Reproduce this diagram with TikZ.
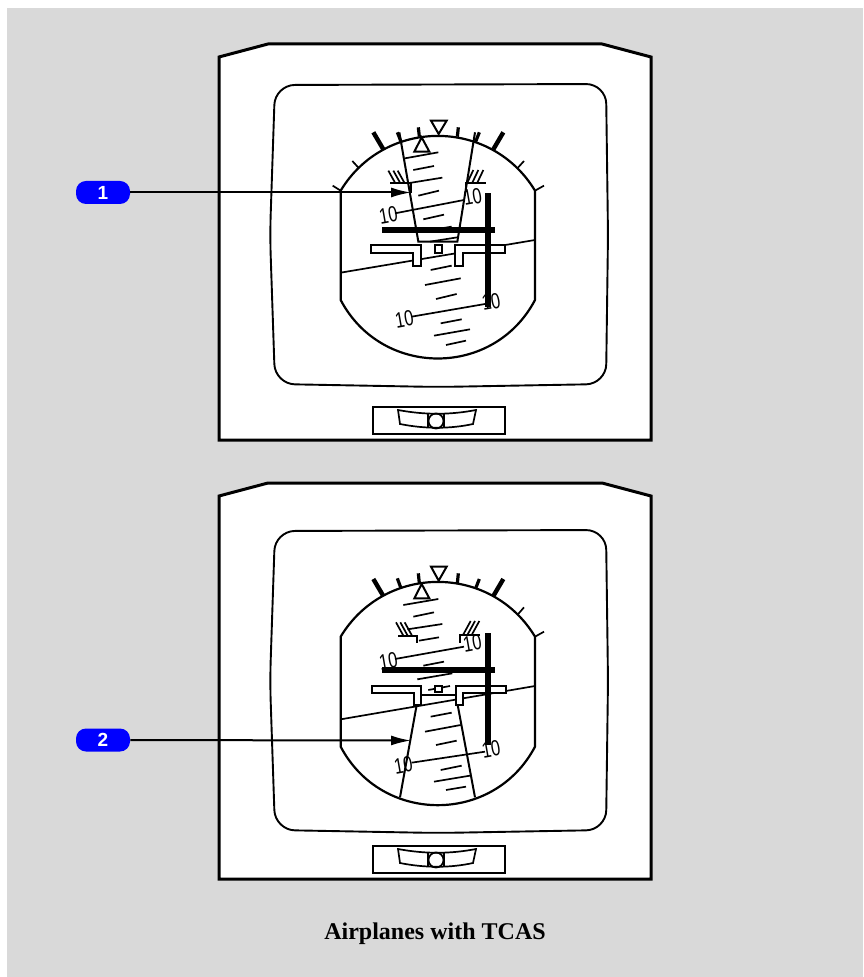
\documentclass[tikz,border=0pt]{standalone}
\usepackage{fontspec}
\setmainfont{Liberation Serif}
\setsansfont{Liberation Sans}
\usetikzlibrary{arrows.meta}

\tikzset{
  frameline/.style={black, line width=1.5pt, fill=white, line join=miter},
  screenline/.style={black, line width=0.95pt, fill=white, rounded corners=10pt},
  fineline/.style={black, line width=0.85pt},
  heavytick/.style={black, line width=2.2pt},
  mediumtick/.style={black, line width=1.6pt},
  wingshape/.style={black, line width=1.1pt, fill=white},
  fatbar/.style={black, line width=3pt},
  badge/.style={fill={rgb,255:red,0;green,0;blue,255}, text=white, rounded corners=5pt, minimum width=27pt,
    minimum height=11.5pt, inner sep=0pt, font=\sffamily\bfseries\fontsize{9.5}{10}\selectfont},
  callout/.style={black, line width=1pt, -{Latex[length=10pt,width=5pt]}},
  tenmark/.style={inner sep=0pt, rotate=10, xscale=0.75, font=\sffamily\fontsize{11}{12}\selectfont}
}

\begin{document}
\begin{tikzpicture}[x=0.5pt, y=-0.5pt]
  \useasboundingbox (0,0) rectangle (863,977);

  % Background
  \fill[gray!30] (7,8) rectangle (863,977);

  % Case, screen and slip indicator (both panels)
  \foreach \off/\scr in {0/0,439/446} {
    \draw[frameline] (219,57+\off) -- (268,44+\off) -- (602,44+\off) -- (651,57+\off)
      -- (651,440+\off) -- (219,440+\off) -- cycle;
    \draw[screenline] (275,85+\scr) -- (606,84+\scr) -- (608,235+\scr) -- (606,384+\scr)
      -- (438,387+\scr) -- (275,384+\scr) -- (270,235+\scr) -- cycle;
    \draw[fineline, line width=1pt] (373,407+\off) rectangle (505,434+\off);
    \draw[fineline] (398,410+\off) .. controls (425,415+\off) and (450,415+\off) .. (476,410+\off)
      -- (473,424+\off) .. controls (450,429+\off) and (425,429+\off) .. (400,424+\off) -- cycle;
    \draw[fineline] (428,414+\off) -- (428,428+\off);
    \draw[fineline] (444,414+\off) -- (444,428+\off);
    \draw[fineline] (436,421+\off) circle (7.5);
  }

  % Upper instrument (1)
  \begin{scope}[shift={(320,100)}, scale=1/3]
    % Sphere
    \draw[fineline, line width=1.1pt] (62,272) .. controls (194,53) and (513,53) .. (645,272)
      -- (645,600) .. controls (522,834) and (185,834) .. (62,600) -- cycle;
    % Roll scale
    \foreach \xa/\ya/\xb/\yb in {160/97/190/148,550/97/520/148}
      \draw[heavytick] (\xa,\ya) -- (\xb,\yb);
    \foreach \xa/\ya/\xb/\yb in {232/97/243/125,295/82/298/110,415/82/412/110,478/97/467/125}
      \draw[mediumtick] (\xa,\ya) -- (\xb,\yb);
    \foreach \xa/\ya/\xb/\yb in {97/183/117/205,612/183/592/205,38/257/62/272,672/257/645/272}
      \draw[fineline] (\xa,\ya) -- (\xb,\yb);
    \draw[fineline, line width=1pt] (333,62) -- (380,62) -- (356,102) -- cycle;
    \draw[fineline, line width=1pt] (283,155) -- (328,155) -- (305,112) -- cycle;
    % Pitch lines
    \foreach \xa/\ya/\xb/\yb in {255/175/355/157,280/210/342/198,262/250/367/233,295/287/357/272,
      225/340/432/300,310/358/372/344,290/397/395/380,330/425/412/412,332/510/395/497,
      315/555/422/535,348/597/410/582,275/650/495/612,362/670/425/658,342/707/450/688,
      378/735/438/722}
      \draw[fineline] (\xa,\ya) -- (\xb,\yb);
    \node[tenmark] (tenUL) at (205,345) {10};
    \node[tenmark] (tenUR) at (458,290) {10};
    \node[tenmark] (tenLL) at (253,657) {10};
    \node[tenmark] (tenLR) at (513,605) {10};
    % Horizon
    \draw[fineline] (62,518) -- (645,420);
    % Runway outline
    \draw[fineline, line width=1pt] (238,97) -- (295,425) -- (412,425) -- (465,97);
    % Limit marks
    \draw[fineline, line width=1.1pt] (210,248) -- (272,248) -- (272,280);
    \draw[fineline, line width=1.1pt] (497,248) -- (437,248) -- (437,275);
    \foreach \x in {205,220,233}
      \draw[fineline] (\x,212) -- (\x+20,248);
    \foreach \x in {490,475,460}
      \draw[fineline] (\x,210) -- (\x-18,248);
    % Airplane symbol
    \draw[wingshape] (153,436) -- (303,436) -- (303,497) -- (280,497) -- (280,460) -- (153,460) -- cycle;
    \draw[wingshape] (405,436) -- (555,436) -- (555,460) -- (430,460) -- (430,497) -- (405,497) -- cycle;
    \draw[wingshape] (344,436) rectangle (367,458);
    % Command bars
    \draw[fatbar] (187,391) -- (525,391);
    \draw[fatbar] (503,280) -- (503,620);
  \end{scope}

  % Lower instrument (2)
  \begin{scope}[shift={(320,550)}, scale=1/3]
    % Sphere
    \draw[fineline, line width=1.1pt] (62,260) .. controls (194,41) and (513,41) .. (645,260)
      -- (645,590) .. controls (522,824) and (185,824) .. (62,590) -- cycle;
    % Roll scale
    \foreach \xa/\ya/\xb/\yb in {160/87/190/138,550/87/520/138}
      \draw[heavytick] (\xa,\ya) -- (\xb,\yb);
    \foreach \xa/\ya/\xb/\yb in {232/85/243/115,295/70/298/100,415/70/412/100,478/87/467/115}
      \draw[mediumtick] (\xa,\ya) -- (\xb,\yb);
    \foreach \xa/\ya/\xb/\yb in {612/172/592/195,672/245/645/260}
      \draw[fineline] (\xa,\ya) -- (\xb,\yb);
    \draw[fineline, line width=1pt] (333,50) -- (380,50) -- (356,92) -- cycle;
    \draw[fineline, line width=1pt] (283,145) -- (328,145) -- (305,102) -- cycle;
    % Pitch lines
    \foreach \xa/\ya/\xb/\yb in {250/165/355/147,280/200/342/187,262/238/367/222,297/272/357/262,
      225/327/432/290,310/347/372/335,292/388/397/370,325/420/390/408,332/500/395/488,
      315/545/422/525,348/585/410/572,275/638/495/605,362/660/425/647,342/695/450/677,
      378/720/438/710}
      \draw[fineline] (\xa,\ya) -- (\xb,\yb);
    \node[tenmark] (tenULb) at (205,333) {10};
    \node[tenmark] (tenURb) at (457,280) {10};
    \node[tenmark] (tenLLb) at (250,645) {10};
    \node[tenmark] (tenLRb) at (513,598) {10};
    % Horizon
    \draw[fineline] (62,508) -- (645,408);
    % Runway outline
    \draw[fineline, line width=1pt] (240,742) -- (290,465);
    \draw[fineline, line width=1pt] (465,742) -- (413,465);
    \draw[fineline, line width=1pt] (303,435) -- (407,435);
    % Limit marks
    \draw[fineline, line width=1.1pt] (235,257) -- (292,257) -- (292,280);
    \draw[fineline, line width=1.1pt] (480,255) -- (420,255) -- (420,278);
    \foreach \x in {228,241,254}
      \draw[fineline] (\x,217) -- (\x+22,257);
    \foreach \x in {478,465,452}
      \draw[fineline] (\x,213) -- (\x-23,255);
    % Airplane symbol
    \draw[wingshape] (155,407) -- (303,407) -- (303,465) -- (283,465) -- (283,430) -- (155,430) -- cycle;
    \draw[wingshape] (407,407) -- (558,407) -- (558,430) -- (430,430) -- (430,465) -- (407,465) -- cycle;
    \draw[wingshape] (344,407) rectangle (367,427);
    % Command bars
    \draw[fatbar] (187,360) -- (525,360);
    \draw[fatbar] (505,250) -- (505,585);
  \end{scope}

  % Callouts
  \node[badge] (badgeone) at (103,192.5) {1};
  \coordinate (tipone) at (411,192.5);
  \draw[callout] (badgeone) -- (tipone);
  \node[badge] (badgetwo) at (103,740) {2};
  \coordinate (tiptwo) at (411,740.5);
  \draw[callout] (badgetwo) -- (tiptwo);

  % Title
  \node[font=\bfseries\fontsize{12}{14}\selectfont] (title) at (435,933.5) {Airplanes with TCAS};
\end{tikzpicture}
\end{document}
